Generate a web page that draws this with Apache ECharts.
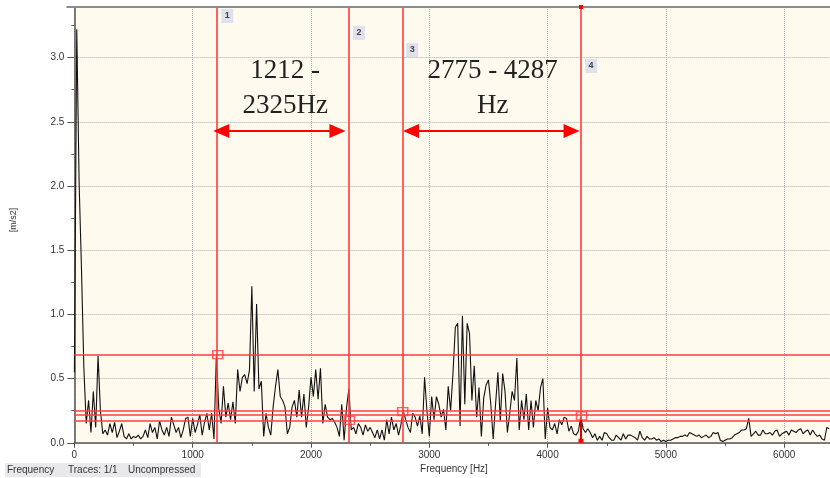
<!DOCTYPE html>
<html><head><meta charset="utf-8">
<script src="https://cdn.jsdelivr.net/npm/echarts@6/dist/echarts.min.js"></script>
<style>html,body{margin:0;padding:0;background:#fff}#c{width:830px;height:478px}</style>
</head><body><div id="c"></div>
<script>
// ---- data ----
const binHz = 20; // spectral line spacing, Hz
const amplitude = [
 0.55,3.22,2.02,1.35,0.58,0.15,0.33,0.08,0.4,0.12,
 0.68,0.25,0.07,0.1,0.06,0.15,0.08,0.16,0.04,0.09,
 0.15,0.05,0.03,0.07,0.03,0.05,0.04,0.06,0.03,0.05,
 0.1,0.04,0.15,0.08,0.12,0.03,0.17,0.1,0.06,0.12,
 0.05,0.2,0.14,0.08,0.12,0.04,0.1,0.19,0.2,0.05,
 0.19,0.08,0.14,0.22,0.06,0.16,0.23,0.1,0.23,0.03,
 0.685,0.27,0.15,0.44,0.2,0.31,0.18,0.32,0.15,0.57,
 0.4,0.51,0.53,0.46,0.57,1.22,0.4,1.08,0.42,0.48,
 0.05,0.23,0.12,0.06,0.28,0.44,0.57,0.36,0.33,0.28,
 0.07,0.12,0.28,0.33,0.2,0.41,0.2,0.38,0.12,0.28,
 0.51,0.36,0.57,0.34,0.58,0.15,0.3,0.2,0.18,0.19,
 0.16,0.12,0.05,0.3,0.02,0.27,0.42,0.1,0.12,0.07,
 0.15,0.12,0.06,0.14,0.09,0.12,0.08,0.04,0.1,0.03,
 0.1,0.02,0.18,0.07,0.2,0.1,0.15,0.06,0.14,0.25,
 0.18,0.12,0.08,0.23,0.2,0.13,0.21,0.07,0.51,0.25,
 0.05,0.36,0.18,0.36,0.3,0.2,0.26,0.1,0.44,0.25,
 0.54,0.9,0.93,0.13,0.99,0.3,0.93,0.85,0.33,0.6,
 0.2,0.43,0.05,0.35,0.45,0.49,0.3,0.03,0.3,0.55,
 0.17,0.54,0.4,0.08,0.23,0.4,0.33,0.66,0.1,0.33,
 0.18,0.38,0.1,0.33,0.12,0.33,0.25,0.43,0.5,0.03,
 0.27,0.12,0.1,0.15,0.07,0.18,0.14,0.2,0.19,0.09,
 0.13,0.07,0.06,0.09,0.2,0.11,0.08,0.11,0.08,0.04,
 0.07,0.02,0.05,0.02,0.08,0.07,0.04,0.02,0.02,0.06,
 0.04,0.02,0.07,0.03,0.06,0.06,0.05,0.04,0.02,0.09,
 0.04,0.02,0.05,0.03,0.03,0.04,0.02,0.03,0.01,0.02,
 0.01,0.02,0.02,0.03,0.04,0.04,0.05,0.05,0.06,0.05,
 0.08,0.07,0.06,0.05,0.06,0.04,0.05,0.06,0.04,0.05,
 0.08,0.07,0.08,0.02,0.01,0.02,0.03,0.03,0.04,0.06,
 0.07,0.08,0.1,0.1,0.11,0.19,0.05,0.07,0.09,0.06,
 0.06,0.1,0.07,0.07,0.08,0.06,0.09,0.1,0.05,0.07,
 0.08,0.09,0.06,0.1,0.09,0.08,0.1,0.11,0.07,0.09,
 0.1,0.06,0.1,0.07,0.05,0.06,0.03,0.02,0.12,0.11
];
const cursorHz = [1212, 2325, 2775, 4287];
const cursorLevel = [0.686, 0.175, 0.242, 0.209];
const cursorNames = ['1', '2', '3', '4'];
const bandText = [['1212 -', '2325Hz'], ['2775 - 4287', 'Hz']];
const statusTexts = ['Frequency', 'Traces: 1/1', 'Uncompressed'];
const xName = 'Frequency [Hz]';
const yName = '[m/s2]';
const xMax = 6387, yMax = 3.394;

// ---- chart ----
const chart = echarts.init(document.getElementById('c'), null, {renderer: 'canvas'});
const spectrum = amplitude.map((v, i) => [i * binHz, v]);
const sans = '"Liberation Sans", Arial, sans-serif';
const red = '#ff3c3c';
const axisCol = '#555';

chart.setOption({
  animation: false,
  backgroundColor: '#ffffff',
  grid: {left: 74.4, top: 7, right: 0, bottom: 35.2, show: true, backgroundColor: '#fffaee', borderWidth: 0},
  xAxis: {
    type: 'value', min: 0, max: xMax, interval: 1000,
    axisLine: {show: true, onZero: false, lineStyle: {color: axisCol, width: 1.5}},
    axisTick: {show: true, length: 5, lineStyle: {color: axisCol}},
    minorTick: {show: true, splitNumber: 2, length: 3, lineStyle: {color: axisCol}},
    axisLabel: {color: '#333', fontSize: 10, fontFamily: sans, margin: 7, showMaxLabel: false,
      formatter: v => String(Math.round(v))},
    splitLine: {show: true, lineStyle: {color: '#ababab', type: [1, 1], width: 1}}
  },
  yAxis: {
    type: 'value', min: 0, max: yMax, interval: 0.5,
    axisLine: {show: true, onZero: false, lineStyle: {color: axisCol, width: 1.5}},
    axisTick: {show: true, length: 7, lineStyle: {color: axisCol}},
    minorTick: {show: true, splitNumber: 2, length: 3, lineStyle: {color: axisCol}},
    axisLabel: {color: '#333', fontSize: 10, fontFamily: sans, margin: 10, showMaxLabel: false,
      formatter: v => v.toFixed(1)},
    splitLine: {show: true, lineStyle: {color: '#ababab', type: [1, 1], width: 1}}
  },
  series: [
    {
      type: 'line', data: spectrum, showSymbol: false, symbol: 'none', z: 2,
      lineStyle: {color: '#111', width: 1.1}, clip: true
    },
    {
      type: 'scatter', z: 5,
      data: cursorHz.map((h, i) => [h, cursorLevel[i]]),
      symbol: 'rect', symbolSize: [10, 8],
      itemStyle: {color: 'rgba(255,250,238,0.35)', borderColor: red, borderWidth: 1.4}
    }
  ]
});

// ---- annotations positioned through the chart's own scales ----
const P = (x, y) => chart.convertToPixel({gridIndex: 0}, [x, y]);
const snap = v => 2 * Math.floor(v / 2) + 1; // centre a 2px line on one pixel pair
const g = [];
const gridTop = P(0, yMax)[1], gridBottom = P(0, 0)[1], gridLeft = P(0, 0)[0];

// cursor lines (vertical at cursor frequency, horizontal at cursor level)
cursorHz.forEach(h => {
  const x = snap(P(h, 0)[0]);
  g.push({type: 'line', shape: {x1: x, y1: gridTop, x2: x, y2: gridBottom},
    style: {stroke: red, lineWidth: 1.6}, z: 10, silent: true});
});
cursorLevel.forEach(l => {
  const y = snap(P(0, l)[1]);
  g.push({type: 'line', shape: {x1: gridLeft, y1: y, x2: 830, y2: y},
    style: {stroke: red, lineWidth: 1.6}, z: 10, silent: true});
});

// top frame line
g.push({type: 'line', shape: {x1: gridLeft - 8, y1: gridTop, x2: 830, y2: gridTop},
  style: {stroke: '#8c8c8c', lineWidth: 2}, z: 20});
g.push({type: 'rect', shape: {x: gridLeft - 9, y: 0, width: 8, height: gridTop - 1},
  style: {fill: '#ffffff'}, z: 19});

// cursor number boxes
const boxTops = [9, 26, 43, 59];
cursorHz.forEach((h, i) => {
  const x = P(h, 0)[0] + 3.5;
  g.push({type: 'rect', shape: {x: x, y: boxTops[i], width: 12, height: 14},
    style: {fill: '#e1e1ee'}, z: 20});
  g.push({type: 'text', x: x + 6, y: boxTops[i] + 7,
    style: {text: cursorNames[i], fill: '#444', font: 'bold 9px ' + sans, align: 'center', verticalAlign: 'middle'}, z: 21});
});

// band labels (serif)
[[0, 1], [2, 3]].forEach((pair, k) => {
  const cx = (P(cursorHz[pair[0]], 0)[0] + P(cursorHz[pair[1]], 0)[0]) / 2 + (k === 0 ? 1.5 : 0.5);
  bandText[k].forEach((t, j) => {
    g.push({type: 'text', x: cx, y: 71 + j * 35,
      style: {text: t, fill: '#222', font: '27px "Liberation Serif", "Times New Roman", serif', align: 'center', verticalAlign: 'middle'}, z: 20});
  });
});

// double-headed arrows
const arrowY = 131;
function arrow(xl, xr) {
  const hl = 16, hh = 7;
  g.push({type: 'line', shape: {x1: xl + hl - 2, y1: arrowY, x2: xr - hl + 2, y2: arrowY},
    style: {stroke: '#ff0000', lineWidth: 2}, z: 20});
  g.push({type: 'polygon', shape: {points: [[xl, arrowY], [xl + hl, arrowY - hh], [xl + hl, arrowY + hh]]},
    style: {fill: '#ff0000'}, z: 20});
  g.push({type: 'polygon', shape: {points: [[xr, arrowY], [xr - hl, arrowY - hh], [xr - hl, arrowY + hh]]},
    style: {fill: '#ff0000'}, z: 20});
}
arrow(P(cursorHz[0], 0)[0] - 4.5, P(cursorHz[1], 0)[0] - 4);
arrow(P(cursorHz[2], 0)[0] + 0.3, P(cursorHz[3], 0)[0] - 2);

// cursor 4 end markers
const c4 = P(cursorHz[3], cursorLevel[3]);
const c4x = snap(c4[0]);
g.push({type: 'rect', shape: {x: c4x - 2, y: gridTop - 2, width: 4, height: 4}, style: {fill: '#ff0000'}, z: 22});
g.push({type: 'rect', shape: {x: c4x - 2.5, y: gridBottom - 4, width: 5, height: 4}, style: {fill: '#ff0000'}, z: 22});
g.push({type: 'line', shape: {x1: c4x, y1: c4[1] + 4, x2: c4x, y2: gridBottom}, style: {stroke: '#e00000', lineWidth: 2}, z: 21});

// axis names
g.push({type: 'text', x: 454, y: 469,
  style: {text: xName, fill: '#333', font: '10px ' + sans, align: 'center', verticalAlign: 'middle'}, z: 20});
g.push({type: 'text', x: 14, y: 220, rotation: Math.PI / 2,
  style: {text: yName, fill: '#333', font: '9px ' + sans, align: 'center', verticalAlign: 'middle'}, z: 20});

// status bar
g.push({type: 'rect', shape: {x: 5, y: 463, width: 196, height: 14}, style: {fill: '#e9e9ec'}, z: 19});
const statusX = [7, 68, 128];
statusTexts.forEach((t, i) => {
  g.push({type: 'text', x: statusX[i], y: 470.5,
    style: {text: t, fill: '#333', font: '10px ' + sans, align: 'left', verticalAlign: 'middle'}, z: 20});
});

chart.setOption({graphic: {elements: g}});
</script>
</body></html>
